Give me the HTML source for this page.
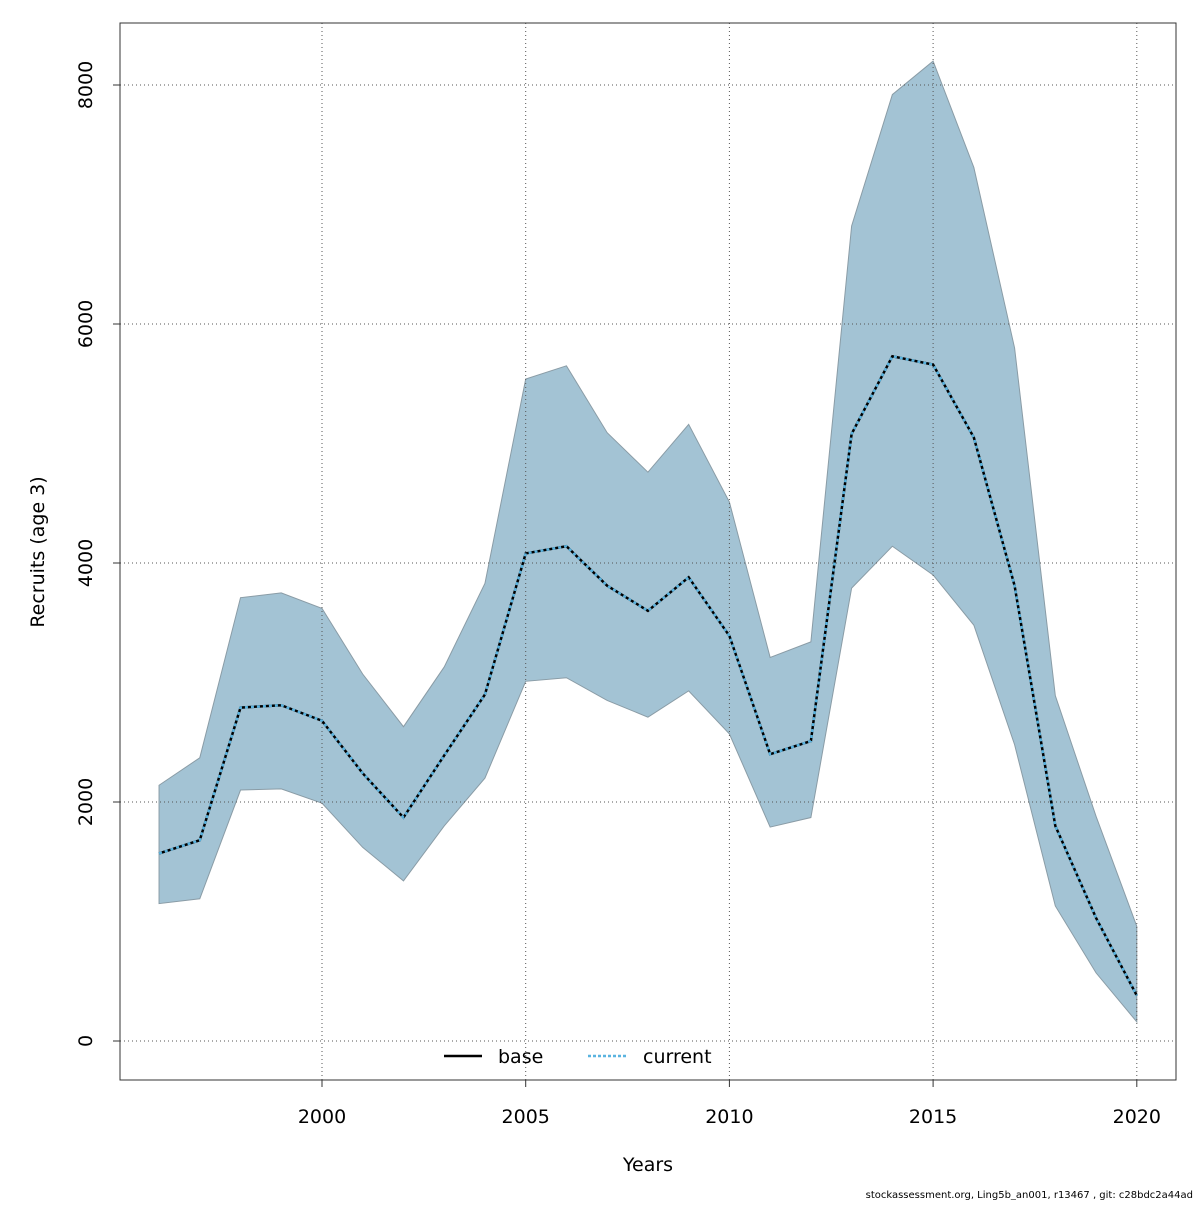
<!DOCTYPE html>
<html><head><meta charset="utf-8"><style>
body{margin:0;background:#fff}
svg text{font-family:"DejaVu Sans","Liberation Sans",sans-serif;fill:#000}
</style></head><body>
<svg width="1200" height="1200" viewBox="0 0 1200 1200">
<g id="fillg"></g><g id="gridg"></g><g id="lineg"></g>
<rect x="120" y="23" width="1056" height="1057" fill="none" stroke="#333" stroke-width="1"/>
<g id="xt"></g><g id="yt"></g>
<text x="648" y="1171" font-size="19" text-anchor="middle">Years</text>
<text transform="translate(44,552) rotate(-90)" font-size="19" text-anchor="middle">Recruits (age 3)</text>
<g>
<line x1="444" y1="1056" x2="482" y2="1056" stroke="#000" stroke-width="2.5"/>
<text x="498" y="1063" font-size="19">base</text>
<line x1="588" y1="1056" x2="626" y2="1056" stroke="#5ab4e0" stroke-width="2.5" stroke-dasharray="3,2"/>
<text x="643" y="1063" font-size="19">current</text>
</g>
<text x="1193" y="1198" font-size="10" text-anchor="end">stockassessment.org, Ling5b_an001, r13467 , git: c28bdc2a44ad</text>
</svg>
<script>
const years=[1996,1997,1998,1999,2000,2001,2002,2003,2004,2005,2006,2007,2008,2009,2010,2011,2012,2013,2014,2015,2016,2017,2018,2019,2020];
const mid=[1570,1680,2790,2810,2680,2240,1870,2390,2900,4080,4140,3810,3600,3880,3390,2400,2510,5080,5730,5660,5050,3810,1800,1030,380];
const low=[1150,1190,2100,2110,1990,1620,1340,1800,2200,3010,3040,2850,2710,2930,2570,1790,1870,3790,4140,3900,3480,2480,1130,570,160];
const high=[2140,2370,3710,3750,3620,3070,2630,3130,3830,5540,5650,5090,4760,5160,4510,3210,3340,6820,7920,8200,7310,5800,2890,1880,960];
const xTicks=[2000,2005,2010,2015,2020];
const yTicks=[0,2000,4000,6000,8000];
const X=y=>322+(y-2000)*40.74;
const Y=v=>1041-v*0.1195;
const NS="http://www.w3.org/2000/svg";
function mk(t,a,p){const e=document.createElementNS(NS,t);for(const k in a)e.setAttribute(k,a[k]);p.appendChild(e);return e;}
const fg=document.getElementById('fillg'),gg=document.getElementById('gridg'),lg=document.getElementById('lineg');
let pts=years.map((y,i)=>X(y)+','+Y(high[i]));
for(let i=years.length-1;i>=0;i--)pts.push(X(years[i])+','+Y(low[i]));
const poly=mk('polygon',{points:pts.join(' '),fill:'#a3c3d4',stroke:'#8a9ca6','stroke-width':1},fg);


xTicks.forEach(t=>{
const l=mk('line',{x1:X(t),x2:X(t),y1:23,y2:1080,stroke:'#555','stroke-width':1,'stroke-dasharray':'1,3'},gg);


const tk=mk('line',{x1:X(t),x2:X(t),y1:1080,y2:1087,stroke:'#333'},document.getElementById('xt'));


const tx=mk('text',{x:X(t),y:1123,'font-size':19,'text-anchor':'middle'},document.getElementById('xt'));
tx.textContent=t;


});
yTicks.forEach(t=>{
const l=mk('line',{x1:120,x2:1176,y1:Y(t),y2:Y(t),stroke:'#555','stroke-width':1,'stroke-dasharray':'1,3'},gg);


const tk=mk('line',{x1:113,x2:120,y1:Y(t),y2:Y(t),stroke:'#333'},document.getElementById('yt'));


const tx=mk('text',{transform:`translate(92,${Y(t)}) rotate(-90)`,'font-size':19,'text-anchor':'middle'},document.getElementById('yt'));
tx.textContent=t;


});
const mp=years.map((y,i)=>X(y)+','+Y(mid[i])).join(' ');
const b=mk('polyline',{points:mp,fill:'none',stroke:'#000','stroke-width':2.5},lg);


const c=mk('polyline',{points:mp,fill:'none',stroke:'#5ab4e0','stroke-width':2.5,'stroke-dasharray':'3,3'},lg);


</script>
</body></html>
